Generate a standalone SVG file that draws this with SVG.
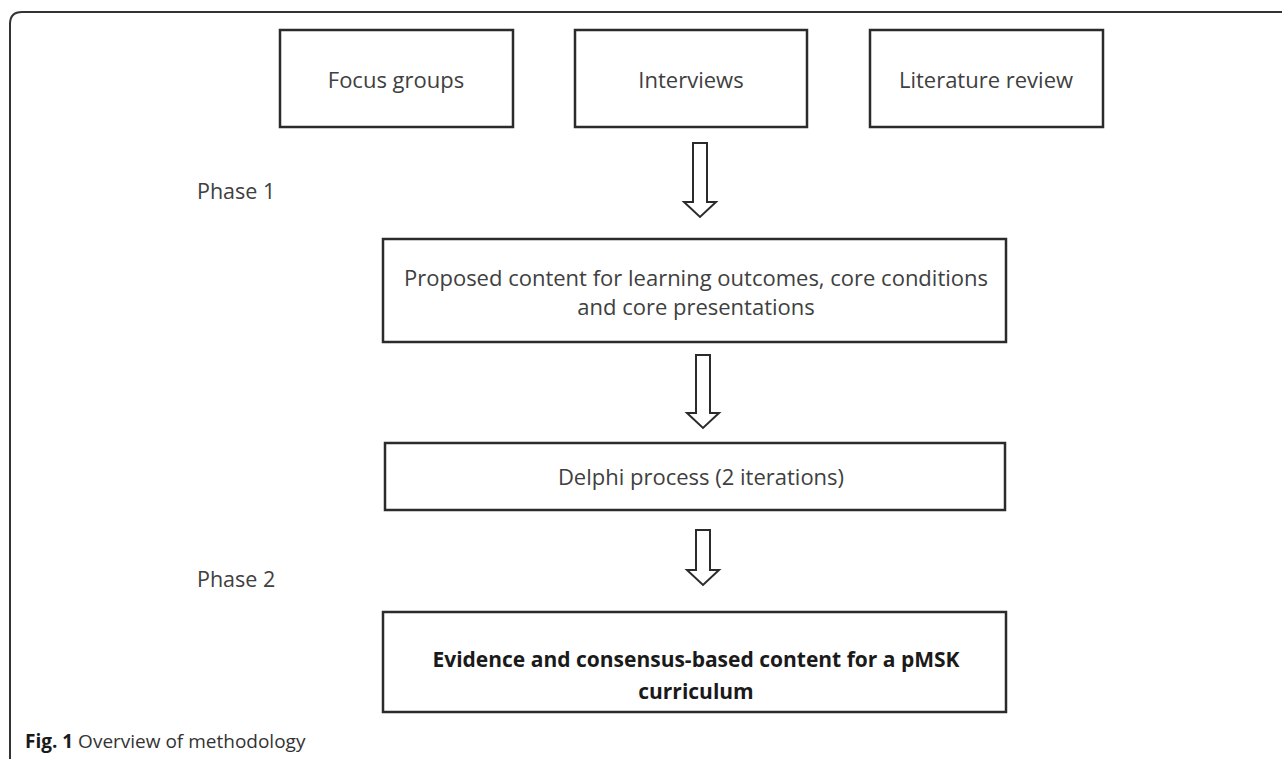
<svg xmlns="http://www.w3.org/2000/svg" width="1282" height="759" viewBox="0 0 1282 759">
<style>
.box{fill:#fff;stroke:#2b2b2b;stroke-width:2.5}
.t{font-family:"Open Sans","Liberation Sans",sans-serif;font-size:22px;fill:#404040;text-anchor:middle}
.b{font-weight:bold;fill:#1a1a1a;font-size:21px}
.ph{font-family:"Open Sans","Liberation Sans",sans-serif;font-size:21.5px;fill:#404040}
.arr{fill:#fff;stroke:#2b2b2b;stroke-width:2}
</style>
<rect width="1282" height="759" fill="#fff"/>
<path d="M10,759 V24 Q10,12 22,12 H1282" fill="none" stroke="#333" stroke-width="2"/>
<g id="focus"><rect class="box" x="280" y="30" width="233" height="97"/><text class="t" x="396" y="88">Focus groups</text></g>
<g id="interviews"><rect class="box" x="575" y="30" width="232" height="97"/><text class="t" x="691" y="88">Interviews</text></g>
<g id="literature"><rect class="box" x="870" y="30" width="233" height="97"/><text class="t" x="986" y="88">Literature review</text></g>
<g id="proposed"><rect class="box" x="383" y="239" width="623" height="103"/><text class="t" x="696" y="286">Proposed content for learning outcomes, core conditions</text><text class="t" x="696" y="315">and core presentations</text></g>
<g id="delphi"><rect class="box" x="385" y="443" width="620" height="67"/><text class="t" x="701" y="485">Delphi process (2 iterations)</text></g>
<g id="evidence"><rect class="box" x="383" y="612" width="623" height="100"/><text class="t b" x="696" y="667">Evidence and consensus-based content for a pMSK</text><text class="t b" x="696" y="699">curriculum</text></g>
<g id="connectors">
<path class="arr" d="M693,143 H707 V202 H716 L700,217 L684,202 H693 Z"/>
<path class="arr" d="M696,355 H710 V413 H719 L703,428 L687,413 H696 Z"/>
<path class="arr" d="M696,530 H710 V570 H719 L703,585 L687,570 H696 Z"/>
</g>
<text class="ph" x="197" y="199">Phase 1</text>
<text class="ph" x="197" y="587">Phase 2</text>
<text font-family="Open Sans, Liberation Sans, sans-serif" font-size="19" fill="#333" x="25" y="748"><tspan font-weight="bold" fill="#1a1a1a">Fig. 1</tspan> Overview of methodology</text>
</svg>
